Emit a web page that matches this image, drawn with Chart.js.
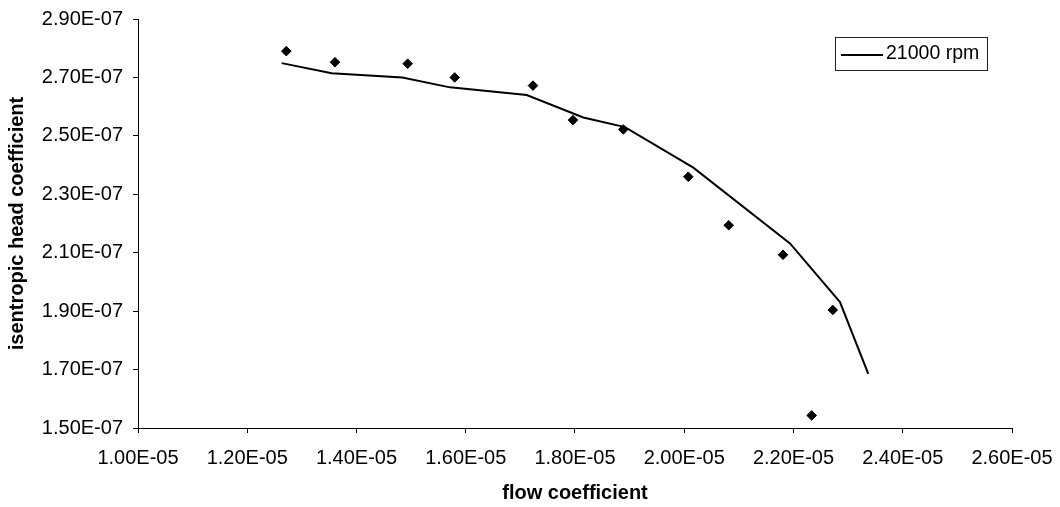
<!DOCTYPE html>
<html>
<head>
<meta charset="utf-8">
<title>Isentropic head coefficient vs flow coefficient</title>
<script src="https://cdn.jsdelivr.net/npm/chart.js@4/dist/chart.umd.min.js"></script>
<style>
  html, body { margin: 0; padding: 0; background: #ffffff; }
  #wrap { position: relative; width: 1060px; height: 507px; }
</style>
</head>
<body>
<div id="wrap"><canvas id="chart"></canvas></div>
<script>
// Measured points (diamonds)
const measuredFlow = [1.2715e-5, 1.3606e-5, 1.4937e-5, 1.5798e-5, 1.7231e-5, 1.7963e-5,
                      1.8884e-5, 2.0074e-5, 2.0814e-5, 2.1808e-5, 2.2719e-5, 2.2333e-5];
const measuredHead = [2.790e-7, 2.752e-7, 2.747e-7, 2.700e-7, 2.672e-7, 2.554e-7,
                      2.522e-7, 2.360e-7, 2.194e-7, 2.093e-7, 1.904e-7, 1.543e-7];

// 21000 rpm characteristic line
const curveFlow = [1.2631e-5, 1.3546e-5, 1.4838e-5, 1.5712e-5, 1.7116e-5, 1.8152e-5,
                   1.8915e-5, 2.0166e-5, 2.1936e-5, 2.2851e-5, 2.3369e-5];
const curveHead = [2.749e-7, 2.714e-7, 2.700e-7, 2.666e-7, 2.640e-7, 2.563e-7,
                   2.530e-7, 2.391e-7, 2.132e-7, 1.931e-7, 1.685e-7];

const seriesLabel = '21000 rpm';
const xTitle = 'flow coefficient';
const yTitle = 'isentropic head coefficient';

// Axis ranges and tick steps
const xMin = 1.0e-5, xMax = 2.6e-5, xStep = 0.2e-5;
const yMin = 1.5e-7, yMax = 2.9e-7, yStep = 0.2e-7;

const FONT = "'Liberation Sans', Arial, Helvetica, sans-serif";

// Spreadsheet-style scientific notation: 1.20E-05
function sci(v) {
  const parts = Number(v).toExponential(2).split('e');
  const e = parseInt(parts[1], 10);
  return parts[0] + 'E' + (e < 0 ? '-' : '+') + String(Math.abs(e)).padStart(2, '0');
}

const toXY = (xs, ys) => xs.map((x, i) => ({ x: x, y: ys[i] }));

// Boxed legend inside the plot, upper right
const boxedLegend = {
  id: 'boxedLegend',
  afterDraw(chart) {
    const ctx = chart.ctx;
    const ds = chart.data.datasets[0];
    const x0 = 835, y0 = 37, w = 152, h = 33;
    ctx.save();
    ctx.fillStyle = '#ffffff';
    ctx.fillRect(x0, y0, w, h);
    ctx.strokeStyle = '#222222';
    ctx.lineWidth = 1;
    ctx.strokeRect(x0 + 0.5, y0 + 0.5, w, h);
    ctx.strokeStyle = ds.borderColor;
    ctx.lineWidth = ds.borderWidth;
    ctx.beginPath();
    ctx.moveTo(x0 + 6, y0 + 18);
    ctx.lineTo(x0 + 48, y0 + 18);
    ctx.stroke();
    ctx.fillStyle = '#000000';
    ctx.font = '19.5px ' + FONT;
    ctx.textAlign = 'left';
    ctx.textBaseline = 'middle';
    ctx.fillText(ds.label, x0 + 51, y0 + 17);
    ctx.restore();
  }
};

// Fixed axis box sizes; tick-label overhang is covered by the layout padding
function fixX(scale) { scale.height = 79; scale.paddingLeft = 0; scale.paddingRight = 0; }
function fixY(scale) { scale.width = 138; scale.paddingTop = 0; scale.paddingBottom = 0; }

new Chart(document.getElementById('chart'), {
  type: 'scatter',
  data: {
    datasets: [
      {
        label: seriesLabel,
        data: toXY(curveFlow, curveHead),
        showLine: true,
        borderColor: '#000000',
        borderWidth: 2,
        pointRadius: 0,
        pointHoverRadius: 0,
        fill: false,
        tension: 0
      },
      {
        label: 'measured',
        data: toXY(measuredFlow, measuredHead),
        showLine: false,
        pointStyle: 'rectRot',
        pointRadius: 4.8,
        pointBackgroundColor: '#000000',
        pointBorderColor: '#000000',
        pointBorderWidth: 1
      }
    ]
  },
  options: {
    responsive: true,
    maintainAspectRatio: false,
    animation: false,
    layout: { padding: { left: 0, right: 48, top: 19, bottom: 0 } },
    plugins: {
      legend: { display: false },
      tooltip: { enabled: false }
    },
    scales: {
      x: {
        type: 'linear',
        min: xMin,
        max: xMax,
        afterFit: fixX,
        border: { display: true, color: '#000000', width: 1 },
        grid: { display: true, drawOnChartArea: false, drawTicks: true, tickLength: 5, color: '#000000' },
        ticks: {
          stepSize: xStep,
          padding: 13,
          color: '#000000',
          font: { family: FONT, size: 20 },
          maxRotation: 0,
          autoSkip: false,
          callback: (v) => sci(v)
        },
        title: {
          display: true,
          text: xTitle,
          color: '#000000',
          font: { family: FONT, size: 20, weight: 'bold' },
          padding: { top: 0, bottom: 2 }
        }
      },
      y: {
        type: 'linear',
        min: yMin,
        max: yMax,
        afterFit: fixY,
        border: { display: true, color: '#000000', width: 1 },
        grid: { display: true, drawOnChartArea: false, drawTicks: true, tickLength: 5, color: '#000000' },
        ticks: {
          stepSize: yStep,
          padding: 10,
          color: '#000000',
          font: { family: FONT, size: 20 },
          autoSkip: false,
          callback: (v) => sci(v)
        },
        title: {
          display: true,
          text: yTitle,
          color: '#000000',
          font: { family: FONT, size: 20, weight: 'bold' },
          padding: { top: 5, bottom: 0 }
        }
      }
    }
  },
  plugins: [boxedLegend]
});
</script>
</body>
</html>
